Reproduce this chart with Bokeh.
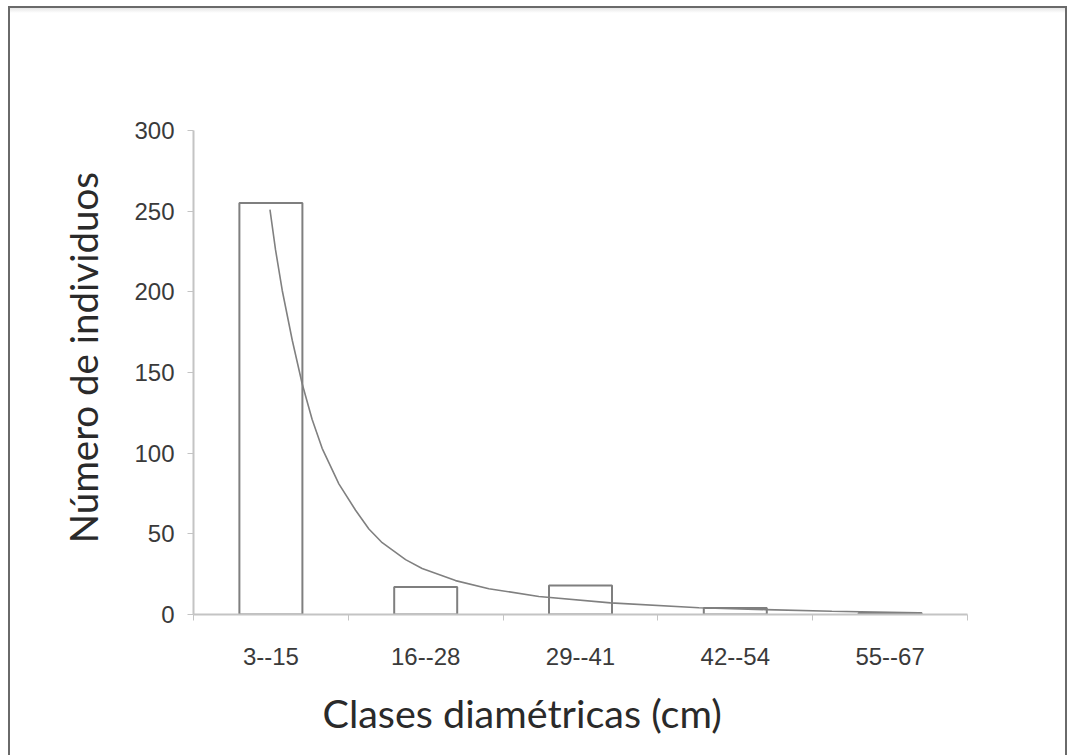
from bokeh.plotting import figure
from bokeh.models import Range1d, FixedTicker, Title, ColumnDataSource
from bokeh.embed import file_html
from bokeh.resources import INLINE

# ---- data ----
categories = ["3--15", "16--28", "29--41", "42--54", "55--67"]
counts = [255, 17, 18, 4, 1]
y_ticks = [0, 50, 100, 150, 200, 250, 300]
# trend curve (x in category units, 0.5 = centre of first class)
curve_x = [0.494, 0.530, 0.573, 0.638, 0.702, 0.766, 0.831, 0.939, 1.047, 1.133,
           1.219, 1.370, 1.477, 1.693, 1.908, 2.231, 2.694, 3.265, 3.696, 4.124,
           4.686]
curve_y = [251.0, 226.0, 201.0, 170.0, 143.0, 121.0, 103.0, 81.0, 64.6, 53.0,
           44.5, 34.0, 28.5, 21.0, 16.0, 11.2, 7.2, 4.2, 3.0, 2.0,
           1.0]
x_title = "Clases diamétricas (cm)"
y_title = "Número de individuos"

centers = [i + 0.5 for i in range(len(categories))]
bounds = list(range(len(categories) + 1))

W, H = 1068, 755
frame_col = "#6a6a6a"
bg = ("linear-gradient({c},{c}) 8px 6px / 2px 800px no-repeat, "
      "linear-gradient({c},{c}) 8px 6px / 1059px 2px no-repeat, "
      "linear-gradient({c},{c}) 1065px 6px / 2px 800px no-repeat, "
      "linear-gradient(#e6e6e6,#ffffff) 10px 8px / 1055px 5px no-repeat, "
      "#ffffff").format(c=frame_col)

p = figure(width=W, height=H, output_backend="svg", toolbar_location=None,
           x_range=Range1d(0, len(categories)), y_range=Range1d(0, 300),
           min_border_left=193, min_border_right=101, min_border_top=130,
           min_border_bottom=140)
p.styles = {"background": bg}
p.xgrid.grid_line_color = None
p.ygrid.grid_line_color = None
p.outline_line_color = None
p.background_fill_color = None
p.border_fill_color = None

src = ColumnDataSource(dict(x=centers, top=counts, cat=categories))
p.vbar(x="x", top="top", bottom=0, width=0.407, source=src,
       fill_color="white", line_color="#7f7f7f", line_width=2)
p.line(curve_x, curve_y, line_color="#808080", line_width=1.6)

axis_col = "#c4c4c4"
txt_col = "#3a3a3a"
xa = p.xaxis[0]
xa.ticker = FixedTicker(ticks=centers, minor_ticks=bounds)
xa.major_label_overrides = {c: lab for c, lab in zip(centers, categories)}
xa.major_tick_out = 0
xa.major_tick_in = 0
xa.minor_tick_out = 6
xa.minor_tick_in = 0
xa.minor_tick_line_color = axis_col
xa.axis_line_color = axis_col
xa.axis_line_width = 2
xa.major_label_standoff = 27
xa.major_label_text_font = "Liberation Sans"
xa.major_label_text_font_size = "24px"
xa.major_label_text_color = txt_col

ya = p.yaxis[0]
ya.ticker = FixedTicker(ticks=y_ticks)
ya.major_tick_out = 6
ya.major_tick_in = 0
ya.minor_tick_line_color = None
ya.major_tick_line_color = axis_col
ya.axis_line_color = axis_col
ya.axis_line_width = 2
ya.major_label_standoff = 13
ya.major_label_text_font = "Liberation Sans"
ya.major_label_text_font_size = "24px"
ya.major_label_text_color = txt_col
ya.axis_label = "\u00a0\u00a0\u00a0" + y_title
ya.axis_label_text_font = "Lato"
ya.axis_label_text_font_size = "38.5px"
ya.axis_label_text_font_style = "normal"
ya.axis_label_text_color = "#2a2a2a"
ya.axis_label_standoff = 25

p.add_layout(Title(text=x_title, align="left", offset=129, standoff=39,
                   text_font="Lato", text_font_size="39.5px",
                   text_font_style="normal", text_color="#2a2a2a"), "below")

open("out.html", "w").write(file_html(p, INLINE))
